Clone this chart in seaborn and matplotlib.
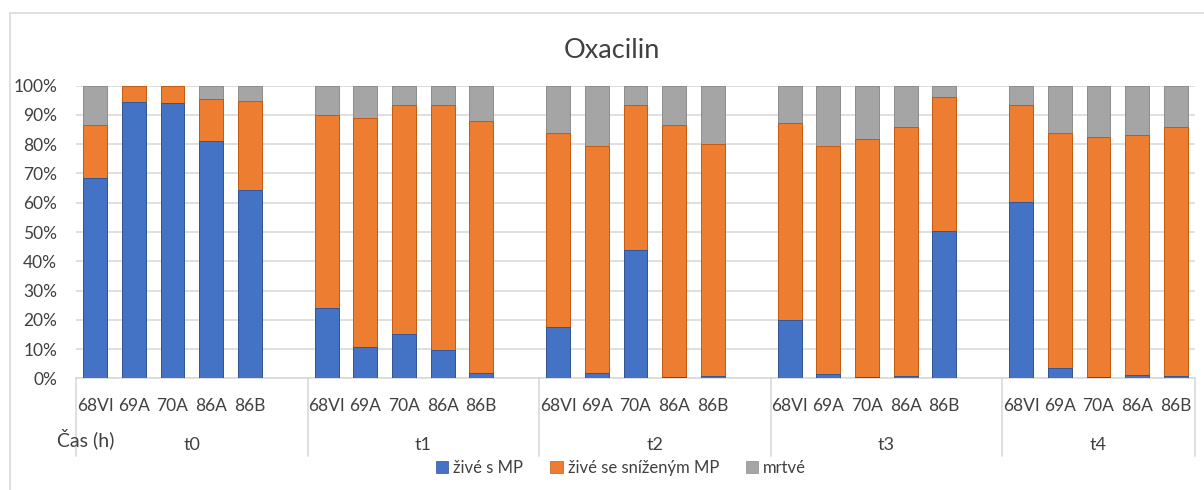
import numpy as np
import pandas as pd
import matplotlib
matplotlib.use("Agg")
import matplotlib.pyplot as plt
from matplotlib.patches import Patch, Rectangle
import matplotlib.transforms as mtransforms
import seaborn as sns

# ---- data (percent of cells) ----
times = ["t0", "t1", "t2", "t3", "t4"]
strains = ["68VI", "69A", "70A", "86A", "86B"]
series_names = ["živé s MP", "živé se sníženým MP", "mrtvé"]

live_mp = [
    [68.6, 94.5, 94.2, 81.1, 64.2],
    [24.1, 10.8, 15.1, 9.7, 1.8],
    [17.6, 1.8, 44.0, 0.4, 0.8],
    [19.8, 1.5, 0.4, 0.8, 50.4],
    [60.3, 3.6, 0.4, 1.1, 0.8],
]
live_reduced = [
    [18.0, 5.5, 5.8, 14.5, 30.7],
    [65.8, 78.3, 78.3, 83.7, 86.1],
    [66.1, 77.6, 49.4, 86.2, 79.4],
    [67.5, 77.9, 81.4, 85.1, 45.9],
    [33.1, 80.1, 82.2, 81.9, 85.1],
]
dead = [
    [13.4, 0.0, 0.0, 4.4, 5.1],
    [10.1, 10.9, 6.6, 6.6, 12.1],
    [16.3, 20.6, 6.6, 13.4, 19.8],
    [12.7, 20.6, 18.2, 14.1, 3.7],
    [6.6, 16.3, 17.4, 17.0, 14.1],
]

colors = ["#4472C4", "#ED7D31", "#A5A5A5"]
edges = ["#2F5597", "#C55A11", "#8C8C8C"]

# ---- long table: one row per bar, with a blank slot between time groups ----
slot = len(strains) + 1
rows = []
for g, t in enumerate(times):
    for s, st in enumerate(strains):
        rows.append(dict(time=t, strain=st, pos=g * slot + s,
                         a=live_mp[g][s], b=live_reduced[g][s], c=dead[g][s]))
df = pd.DataFrame(rows)
df["cum_a"] = df["a"]
df["cum_b"] = df["a"] + df["b"]
df["cum_c"] = df["a"] + df["b"] + df["c"]

sns.set_theme(style="white")
plt.rcParams["font.family"] = ["Lato", "DejaVu Sans"]
text_col = "#404040"
grid_col = "#D9D9D9"

fig = plt.figure(figsize=(12.04, 4.9), dpi=100)
ax = fig.add_axes([76 / 1204, 1 - 378.3 / 490, 1119 / 1204, 292.6 / 490])

# outer chart frame
fig.patches.append(Rectangle((10 / 1204, -0.1), 1.2, 1 - 13 / 490 + 0.1,
                             transform=fig.transFigure, fill=False,
                             edgecolor="#D9D9D9", linewidth=1.2))

# stacked bars: draw cumulative heights from top layer down
for col, c, e in [("cum_c", colors[2], edges[2]),
                  ("cum_b", colors[1], edges[1]),
                  ("cum_a", colors[0], edges[0])]:
    sns.barplot(data=df, x="pos", y=col, native_scale=True, width=0.62,
                color=c, saturation=1, edgecolor=e, linewidth=0.7,
                errorbar=None, ax=ax, zorder=3)

n_slots = len(times) * slot - 1
ax.set_xlim(-0.5, n_slots - 0.5)
ax.set_ylim(0, 100)
ax.set_yticks(np.arange(0, 101, 10))
ax.set_yticklabels([f"{v}%" for v in range(0, 101, 10)], fontsize=12.5, color=text_col)
ax.yaxis.grid(True, color=grid_col, linewidth=1.2, zorder=0)
ax.set_axisbelow(True)
ax.tick_params(axis="y", length=0, pad=13.5)
ax.tick_params(axis="x", length=0, pad=14)
ax.set_xticks(df["pos"])
ax.set_xticklabels(df["strain"], fontsize=12.5, color=text_col)
ax.set_xlabel("")
ax.set_ylabel("")
for side in ["top", "right", "left"]:
    ax.spines[side].set_visible(False)
ax.spines["bottom"].set_color(grid_col)
ax.spines["bottom"].set_linewidth(1.2)

# group separators and group labels
trans = mtransforms.blended_transform_factory(ax.transData, ax.transAxes)
bounds = [g * slot - 0.5 for g in range(len(times))] + [n_slots - 0.5]
for xb in bounds:
    ax.plot([xb, xb], [0, -0.266], transform=trans, color=grid_col,
            linewidth=1.2, clip_on=False)
for g, t in enumerate(times):
    ax.text((bounds[g] + bounds[g + 1]) / 2, -0.228, t, transform=trans,
            ha="center", va="center", fontsize=13, color=text_col)
ax.text(-0.017, -0.205, "Čas (h)", transform=ax.transAxes, ha="left",
        va="center", fontsize=14, color=text_col)

fig.text(612 / 1204, 1 - 50 / 490, "Oxacilin", ha="center", va="center",
         fontsize=19.5, color=text_col)

handles = [Patch(facecolor=c, edgecolor=e, linewidth=0.5) for c, e in zip(colors, edges)]
fig.legend(handles, series_names, loc="center", bbox_to_anchor=(621 / 1204, 22 / 490),
           ncol=3, frameon=False, fontsize=12, handlelength=0.75, handleheight=0.75,
           handletextpad=0.3, columnspacing=1.6, labelcolor=text_col)

fig.savefig("out.png", dpi=100)
